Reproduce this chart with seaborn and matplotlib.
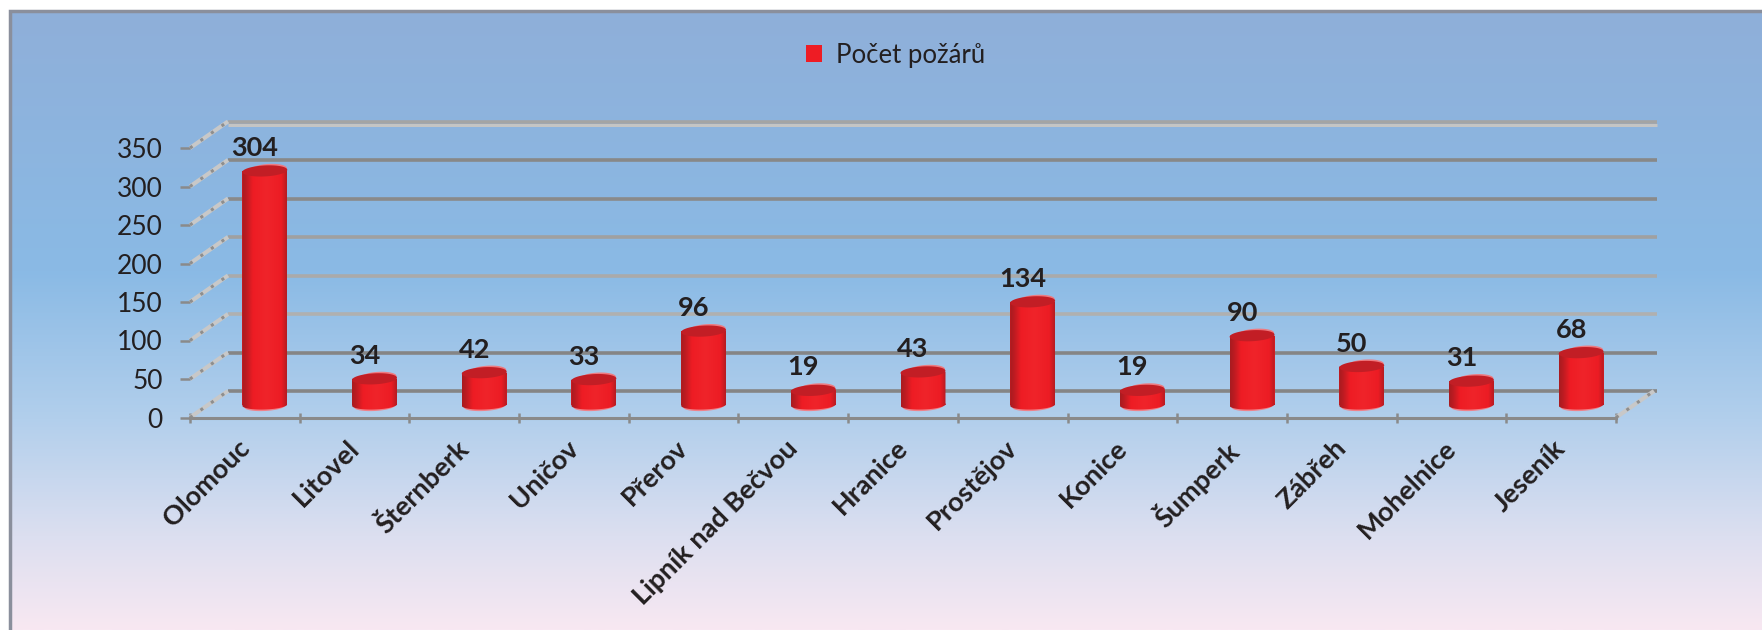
import numpy as np
import pandas as pd
import seaborn as sns
import matplotlib.pyplot as plt
from matplotlib.colors import LinearSegmentedColormap
from matplotlib.patches import Polygon, Rectangle
from matplotlib.path import Path
from matplotlib.transforms import ScaledTranslation

# Data
towns = ['Olomouc', 'Litovel', 'Šternberk', 'Uničov', 'Přerov', 'Lipník nad Bečvou',
         'Hranice', 'Prostějov', 'Konice', 'Šumperk', 'Zábřeh', 'Mohelnice', 'Jeseník']
fires = [304, 34, 42, 33, 96, 19, 43, 134, 19, 90, 50, 31, 68]
y_ticks = [0, 50, 100, 150, 200, 250, 300, 350]
series_name = 'Počet požárů'

grid_colors = ['#858585', '#858585', '#b0b0b0', '#aaaaaa', '#a0a0a0', '#8a8a8a', '#888888', '#a4a4a4']

df = pd.DataFrame({'town': towns, 'fires': fires})

W, H = 1762, 630
sns.set_theme(style='white')
plt.rcParams['font.family'] = ['Lato', 'DejaVu Sans']

fig = plt.figure(figsize=(W / 100, H / 100), dpi=100)
fig.patch.set_facecolor('white')

# Background gradient panel with the grey frame on top and left
bg = fig.add_axes([0, 0, 1, 1])
bg.axis('off')
bg_cmap = LinearSegmentedColormap.from_list('bg', [
    (0.0, '#8fafd9'), (0.42, '#8abae5'), (0.66, '#b2cfec'),
    (0.85, '#dcdff0'), (1.0, '#f8e8f2')])
grad = np.linspace(0, 1, 256).reshape(-1, 1)
bg.imshow(grad, cmap=bg_cmap, extent=[10, W, H, 11], aspect='auto')
bg.set_xlim(0, W)
bg.set_ylim(H, 0)
bg.plot([9.5, 9.5, W], [H, 10.5, 10.5], color='#8a8f9c', lw=2.5, solid_joinstyle='miter')

# Main axes: front edge of the 3D floor
x0, x1, y_zero, y_top = 190, 1616, 417.5, 148
ax = fig.add_axes([x0 / W, 1 - y_zero / H, (x1 - x0) / W, (y_zero - y_top) / H])
ax.patch.set_alpha(0)

sns.barplot(data=df, x='town', y='fires', color='#ee1c24', width=0.41, saturation=1,
            label=series_name, ax=ax, zorder=3, linewidth=0)
ax.set_xlim(-0.5, 12.5)
ax.set_ylim(0, 350)

px_x = (x1 - x0) / 13
px_y = (y_zero - y_top) / 350

# Back wall offset and bar offset, in data units
back_dx, back_dy = 38 / px_x, 26.5 / px_y
bar_dx, bar_dy = 20 / px_x, 12.5 / px_y


def tilted_disc(cx, cy, width, height_px, angle=3):
    # ellipse worked out in pixels so the tilt stays right, returned in data units
    t = np.linspace(0, 2 * np.pi, 60)
    a, b = width * px_x / 2, height_px / 2
    th = np.radians(angle)
    xs = a * np.cos(t) * np.cos(th) - b * np.sin(t) * np.sin(th)
    ys = a * np.cos(t) * np.sin(th) + b * np.sin(t) * np.cos(th)
    return np.column_stack([cx + xs / px_x, cy + ys / px_y])


# Back wall gridlines
for v, c in zip(y_ticks, grid_colors):
    ax.plot([-0.5 + back_dx, 12.5 + (back_dx + 3 / px_x)], [v + back_dy, v + back_dy], color=c, lw=2.6,
            clip_on=False, zorder=1, solid_capstyle='butt')
    # side wall, a broken light diagonal
    ax.plot([-0.5, -0.5 + back_dx], [v, v + back_dy], color='#c8c8c8', lw=3, clip_on=False, zorder=1,
            solid_capstyle='butt')
    ax.plot([-0.5, -0.5 + back_dx], [v, v + back_dy], color='#8e8e8e', lw=2.2,
            ls=(0, (1, 3.2)), dash_capstyle='butt', clip_on=False, zorder=1)
# the top line has a light lower half
ax.plot([-0.5 + back_dx, 12.5 + (back_dx + 3 / px_x)], [350 + back_dy - 3 / px_y] * 2, color='#c4c4c4', lw=2.2,
        clip_on=False, zorder=1, solid_capstyle='butt')
# floor edge on the right
ax.plot([12.5, 12.5 + back_dx], [0, back_dy], color='#c8c8c8', lw=3, clip_on=False, zorder=1,
        solid_capstyle='butt')
ax.plot([12.5, 12.5 + back_dx], [0, back_dy], color='#8e8e8e', lw=2.2,
        ls=(0, (1, 3.2)), dash_capstyle='butt', clip_on=False, zorder=1)

# Cylinder look for each bar, worked out from the seaborn bars
shade = LinearSegmentedColormap.from_list('shade', [
    (0.0, '#a81b20'), (0.1, '#c01c22'), (0.24, '#ee1c24'), (0.55, '#f0242a'),
    (0.88, '#ec1c24'), (1.0, '#b81c22')])
band = np.linspace(0, 1, 64).reshape(1, -1)
for bar, v in zip(ax.patches, fires):
    left = bar.get_x() + bar_dx
    width = bar.get_width()
    mid = left + width / 2
    bar.set_x(left)
    bar.set_y(bar_dy)
    # pink rim at the foot and behind the cap
    ax.add_patch(Polygon(tilted_disc(mid, bar_dy - 1.5 / px_y, width * 0.9, 9), color='#f08088',
                         lw=0, zorder=2.9, clip_on=False))
    ax.add_patch(Polygon(tilted_disc(mid + 4 / px_x, v + bar_dy + 2 / px_y, width * 0.8, 10), color='#ee7a80',
                         lw=0, zorder=3.3, clip_on=False))
    foot = tilted_disc(mid, bar_dy, width, 9, angle=2)
    rect = Rectangle((left, bar_dy), width, v)
    outline = Path.make_compound_path(
        rect.get_patch_transform().transform_path(rect.get_path()),
        Path(np.vstack([foot, foot[0]]), closed=True))
    im = ax.imshow(band, cmap=shade, aspect='auto', zorder=3.2,
                   extent=[left, left + width, bar_dy - 12 / px_y, v + bar_dy + 4 / px_y])
    im.set_clip_path(outline, ax.transData)
    ax.add_patch(Polygon(tilted_disc(mid, v + bar_dy, width, 11), color='#c21e25',
                         lw=0, zorder=3.4, clip_on=False))
    ax.text(mid - 10 / px_x, v + bar_dy + 23 / px_y, str(v), ha='center', va='center',
            fontsize=19.5, fontweight='bold', color='#231f20', zorder=5, clip_on=False)

ax.set_xlim(-0.5, 12.5)
ax.set_ylim(0, 350)

# Axes styling
sns.despine(ax=ax, top=True, right=True, left=True, bottom=False)
ax.spines['bottom'].set_color('#8a8a8a')
ax.spines['bottom'].set_linewidth(2.2)
ax.set_xlabel('')
ax.set_ylabel('')
ax.set_yticks(y_ticks)
ax.set_xticks(np.arange(len(towns) + 1) - 0.5, minor=True)
ax.tick_params(axis='x', which='minor', bottom=True, length=7, width=1.8, color='#8a8a8a', direction='inout')
ax.tick_params(axis='x', which='major', bottom=False, pad=7)
ax.tick_params(axis='y', left=True, length=7, width=1.8, color='#8a8a8a', pad=12.5,
               labelsize=19, labelcolor='#231f20')
ax.set_xticks(range(len(towns)))
ax.set_xticklabels(towns, rotation=45, ha='right', rotation_mode='anchor',
                   fontsize=19.5, fontweight='bold', color='#231f20')
shift = ScaledTranslation(-8 / 100, 0, fig.dpi_scale_trans)
for lab in ax.get_xticklabels():
    lab.set_transform(lab.get_transform() + shift)

leg = ax.legend(loc='center', bbox_to_anchor=(896 / W, 1 - 55 / H), bbox_transform=fig.transFigure,
                frameon=False, fontsize=18.5, handlelength=0.62, handleheight=0.62, handletextpad=0.55,
                labelcolor='#231f20')
for h in leg.get_patches():
    h.set_linewidth(0)

plt.savefig('out.png', dpi=100)
